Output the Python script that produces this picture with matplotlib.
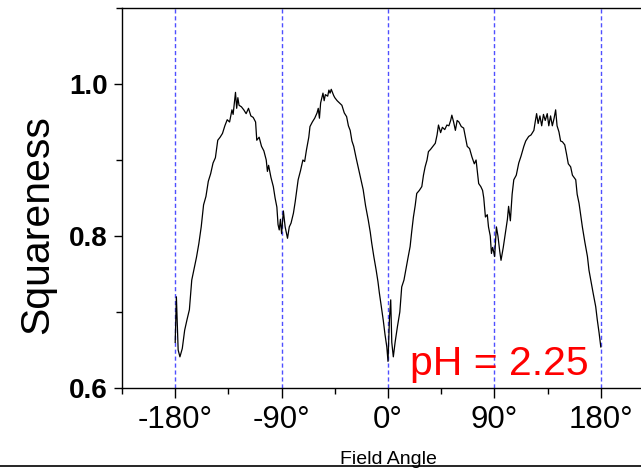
import matplotlib
matplotlib.use("Agg")
import matplotlib.pyplot as plt
from matplotlib.lines import Line2D
from matplotlib.ticker import FixedLocator, FuncFormatter

plt.rcParams['font.family'] = ['Liberation Sans', 'DejaVu Sans']

angle = [-180, -179, -177.5, -176, -174, -172, -170, -168, -166, -164, -162, -160, -158, -156,
         -154, -152, -150, -148, -146, -144, -142, -140, -138, -136, -134, -132, -131, -130,
         -129, -128, -127, -126, -124, -122, -120, -118, -116, -114, -112, -111, -109, -107,
         -105, -103, -102, -101, -99, -97, -95.5, -94, -93, -92, -91, -90, -88.5, -87, -85,
         -83.5, -82, -80, -78.5, -77, -76, -74, -72, -70.5, -69, -67, -66, -64, -62, -60,
         -59, -58, -57, -55, -54, -53, -51, -50, -49, -48, -46, -45, -43, -41, -39, -37, -35,
         -33.5, -32, -30.5, -29, -27, -25, -23, -21, -19, -16.7, -15, -13.8, -12, -10, -8.5,
         -7.3, -5.5, -4, -2.5, -1, 0, 1.2, 2.3, 3.2, 4.5, 6, 8, 10, 11.6, 13.5, 15, 17, 18.7,
         20, 21.5, 23, 24.3, 26.5, 28.6, 30, 31.4, 33, 34.2, 36, 38, 40, 41.5, 42.7, 44.5, 46,
         48, 49.8, 51.5, 53, 54, 55.5, 57, 58.5, 60, 62, 64, 65.5, 67, 69, 71, 73, 74.5, 76.7,
         78.5, 80, 81, 82.4, 84, 85, 86.5, 87.5, 88.5, 89.3, 90.2, 91.7, 93, 94.5, 95.6, 97.5,
         99.3, 101, 102, 103.5, 105, 106.4, 108.5, 110.6, 112.5, 114.9, 116.5, 119, 121, 123.4,
         124.5, 125.7, 127, 128.5, 130, 131.5, 133, 134.7, 136, 137.5, 139, 140.5, 141.8, 143,
         144.6, 146, 147.5, 149.5, 151, 152.5, 154.5, 156, 158.8, 160, 161.6, 163, 164.4, 166.5,
         168.7, 170, 171.5, 173.5, 175.7, 177, 178.6, 180]

squareness = [0.660, 0.720, 0.650, 0.641, 0.652, 0.676, 0.690, 0.703, 0.742, 0.757, 0.772, 0.790,
              0.812, 0.841, 0.852, 0.872, 0.882, 0.896, 0.903, 0.926, 0.930, 0.935, 0.945, 0.953,
              0.950, 0.966, 0.960, 0.975, 0.989, 0.968, 0.982, 0.972, 0.970, 0.966, 0.961, 0.968,
              0.958, 0.956, 0.950, 0.926, 0.930, 0.918, 0.912, 0.900, 0.885, 0.893, 0.877, 0.865,
              0.850, 0.838, 0.815, 0.808, 0.822, 0.803, 0.833, 0.812, 0.797, 0.812, 0.817, 0.830,
              0.845, 0.862, 0.874, 0.886, 0.900, 0.898, 0.913, 0.930, 0.944, 0.950, 0.955, 0.962,
              0.968, 0.955, 0.975, 0.988, 0.978, 0.986, 0.984, 0.992, 0.988, 0.993, 0.985, 0.982,
              0.978, 0.975, 0.972, 0.962, 0.957, 0.945, 0.939, 0.925, 0.918, 0.903, 0.889, 0.875,
              0.861, 0.840, 0.821, 0.805, 0.791, 0.773, 0.755, 0.740, 0.725, 0.705, 0.689, 0.670,
              0.654, 0.635, 0.690, 0.716, 0.660, 0.641, 0.660, 0.681, 0.700, 0.733, 0.742, 0.755,
              0.772, 0.786, 0.805, 0.825, 0.840, 0.856, 0.860, 0.865, 0.880, 0.891, 0.900, 0.911,
              0.914, 0.918, 0.922, 0.933, 0.946, 0.936, 0.943, 0.940, 0.946, 0.945, 0.952, 0.959,
              0.950, 0.939, 0.952, 0.950, 0.944, 0.942, 0.930, 0.918, 0.915, 0.904, 0.895, 0.900,
              0.869, 0.865, 0.860, 0.850, 0.825, 0.828, 0.812, 0.800, 0.777, 0.785, 0.780, 0.773,
              0.812, 0.800, 0.780, 0.768, 0.785, 0.804, 0.822, 0.839, 0.820, 0.855, 0.874, 0.880,
              0.896, 0.905, 0.918, 0.925, 0.931, 0.933, 0.939, 0.950, 0.961, 0.948, 0.958, 0.945,
              0.960, 0.952, 0.961, 0.945, 0.958, 0.945, 0.955, 0.966, 0.945, 0.937, 0.925, 0.924,
              0.920, 0.908, 0.895, 0.891, 0.880, 0.874, 0.855, 0.843, 0.828, 0.812, 0.792, 0.773,
              0.755, 0.742, 0.725, 0.707, 0.690, 0.672, 0.654]

guide_angles = [-180, -90, 0, 90, 180]
x_major = [-180, -90, 0, 90, 180]
x_minor = [-225, -135, -45, 45, 135, 225]
y_major = [0.6, 0.8, 1.0]
y_minor = [0.7, 0.9, 1.1]
annotation = "pH = 2.25"

fig = plt.figure(figsize=(6.41, 4.70), dpi=100)
ax = fig.add_axes([122 / 641, 82 / 470, 532 / 641, 380 / 470])

for g in guide_angles:
    ax.axvline(g, color='#4f4fff', lw=1.0, ls=(0, (3, 2)), zorder=1)

ax.plot(angle, squareness, color='black', lw=0.9, zorder=3)

ax.set_xlim(-225, 225)
ax.set_ylim(0.6, 1.1)

ax.xaxis.set_major_locator(FixedLocator(x_major))
ax.xaxis.set_minor_locator(FixedLocator(x_minor))
ax.yaxis.set_major_locator(FixedLocator(y_major))
ax.yaxis.set_minor_locator(FixedLocator(y_minor))
ax.xaxis.set_major_formatter(FuncFormatter(lambda v, p: f"{int(v)}°"))
ax.yaxis.set_major_formatter(FuncFormatter(lambda v, p: f"{v:.1f}"))

ax.tick_params(axis='x', which='major', direction='out', length=7, width=1.0,
               labelsize=22.5, pad=5)
ax.tick_params(axis='x', which='minor', direction='out', length=4, width=1.0)
ax.tick_params(axis='y', which='major', direction='out', length=6, width=1.0,
               labelsize=20, pad=4)
ax.tick_params(axis='y', which='minor', direction='out', length=4, width=1.0)
for lab in ax.get_yticklabels():
    lab.set_fontweight('bold')

for s in ax.spines.values():
    s.set_linewidth(1.0)

ax.set_ylabel("Squareness", fontsize=29.5)
ax.yaxis.set_label_coords(-0.124, 0.43)

ax.text(18.7, 0.617, annotation, color='red', fontsize=29.5, ha='left', va='baseline', zorder=4)

fig.text(388 / 641, 1 - 464 / 470, "Field Angle", fontsize=14, ha='center', va='baseline')
fig.add_artist(Line2D([0, 1], [1 - 466 / 470, 1 - 466 / 470], color='black', lw=1.2,
                      transform=fig.transFigure))

fig.savefig("out.png", dpi=100)
